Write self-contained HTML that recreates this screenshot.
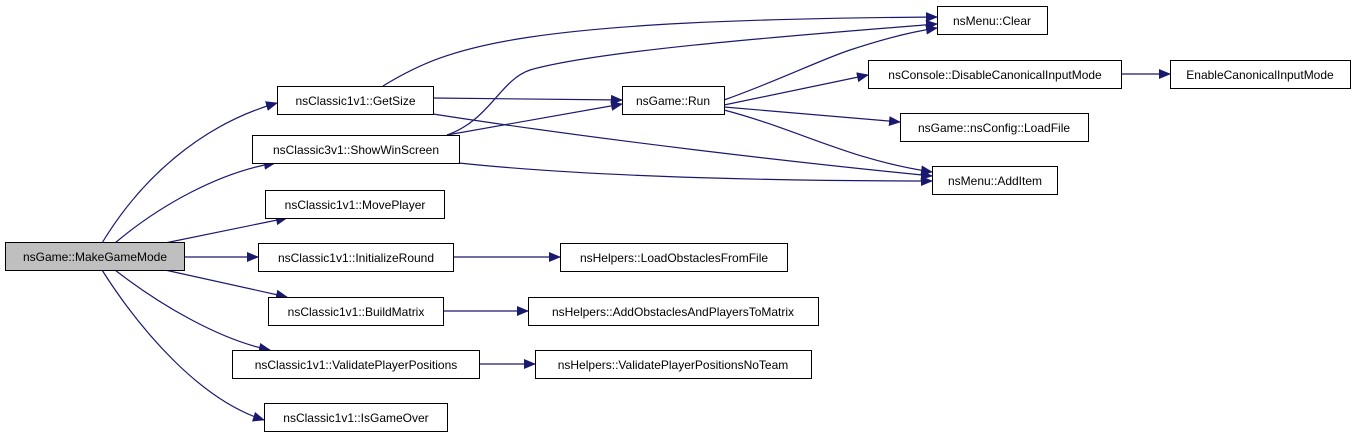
<!DOCTYPE html>
<html><head><meta charset="utf-8"><style>
html,body{margin:0;padding:0;background:#fff;}
svg{display:block;}
text{font-family:"Liberation Sans",sans-serif;font-size:12px;fill:#000;}
</style></head><body>
<svg width="1357" height="437" viewBox="0 0 1357 437" xmlns="http://www.w3.org/2000/svg">
<defs><marker id="a" markerWidth="12" markerHeight="10" refX="11" refY="5" orient="auto" markerUnits="userSpaceOnUse"><path d="M0,0 L12,5 L0,10 Z" fill="#191970"/></marker></defs>
<g fill="none" stroke="#191970" stroke-width="1.2" marker-end="url(#a)">
<path d="M102,243 C140,180 200,125 277,103"/>
<path d="M115,243 C160,205 220,172 275,163"/>
<path d="M165,243 L287,218"/>
<path d="M184,257 L258,257"/>
<path d="M165,270 L287,297"/>
<path d="M115,270 C160,305 220,340 270,350"/>
<path d="M102,270 C140,330 200,400 264,420"/>
<path d="M433,98 L622,100"/>
<path d="M383,86 C450,45 520,20 937,17"/>
<path d="M433,114 C600,140 800,163 932,176"/>
<path d="M447,135 L622,104"/>
<path d="M447,135 C490,120 500,80 530,70 C600,50 800,35 937,24"/>
<path d="M459,163 C600,178 800,181 932,181"/>
<path d="M724,100 C780,80 820,60 850,50 C880,40 910,32 937,28"/>
<path d="M724,105 L868,75"/>
<path d="M724,107 L900,122"/>
<path d="M724,110 C800,130 850,160 932,172"/>
<path d="M1121,74 L1170,74"/>
<path d="M453,257 L560,257"/>
<path d="M443,311 L528,311"/>
<path d="M479,364 L535,364"/>
</g>
<g stroke="#000" stroke-width="1" fill="#fff">
<rect x="5.5" y="242.5" width="179" height="28" fill="#bfbfbf"/>
<rect x="277.5" y="86.5" width="156" height="28"/>
<rect x="252.5" y="135.5" width="207" height="28"/>
<rect x="265.5" y="190.5" width="179" height="28"/>
<rect x="258.5" y="243.5" width="195" height="28"/>
<rect x="268.5" y="297.5" width="175" height="28"/>
<rect x="232.5" y="350.5" width="247" height="28"/>
<rect x="264.5" y="403.5" width="183" height="28"/>
<rect x="622.5" y="86.5" width="102" height="28"/>
<rect x="560.5" y="243.5" width="227" height="28"/>
<rect x="528.5" y="297.5" width="290" height="28"/>
<rect x="535.5" y="350.5" width="276" height="28"/>
<rect x="937.5" y="6.5" width="110" height="28"/>
<rect x="868.5" y="60.5" width="253" height="28"/>
<rect x="1170.5" y="60.5" width="180" height="28"/>
<rect x="900.5" y="113.5" width="188" height="28"/>
<rect x="932.5" y="166.5" width="125" height="28"/>
</g>
<g text-anchor="middle">
<text x="95" y="261">nsGame::MakeGameMode</text>
<text x="355.5" y="105">nsClassic1v1::GetSize</text>
<text x="356" y="154">nsClassic3v1::ShowWinScreen</text>
<text x="355" y="209">nsClassic1v1::MovePlayer</text>
<text x="356" y="262">nsClassic1v1::InitializeRound</text>
<text x="356" y="316">nsClassic1v1::BuildMatrix</text>
<text x="356" y="369">nsClassic1v1::ValidatePlayerPositions</text>
<text x="356" y="422">nsClassic1v1::IsGameOver</text>
<text x="673" y="105">nsGame::Run</text>
<text x="674" y="262">nsHelpers::LoadObstaclesFromFile</text>
<text x="673" y="316">nsHelpers::AddObstaclesAndPlayersToMatrix</text>
<text x="673" y="369">nsHelpers::ValidatePlayerPositionsNoTeam</text>
<text x="992" y="25">nsMenu::Clear</text>
<text x="995" y="79">nsConsole::DisableCanonicalInputMode</text>
<text x="1260" y="79">EnableCanonicalInputMode</text>
<text x="994" y="132">nsGame::nsConfig::LoadFile</text>
<text x="995" y="185">nsMenu::AddItem</text>
</g>
</svg>
</body></html>
